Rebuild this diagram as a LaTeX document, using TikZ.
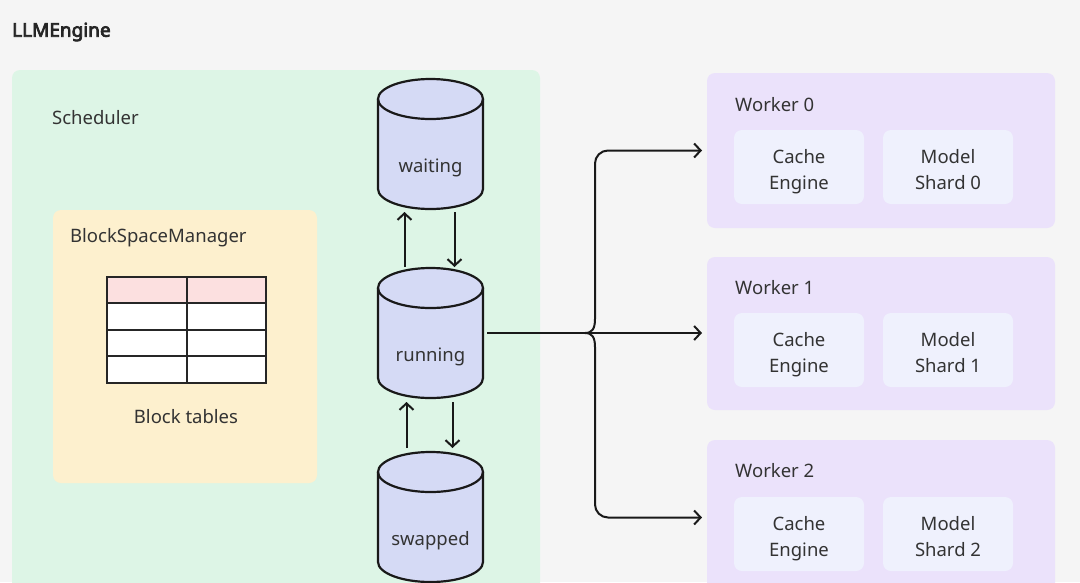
\documentclass[tikz,border=0pt]{standalone}
\usepackage{fontspec}
\setmainfont{Noto Sans}
\newfontfamily\titlefont{Noto Sans}[FakeBold=4]
\usetikzlibrary{arrows.meta}
\definecolor{bgc}{HTML}{F5F5F5}
\definecolor{greenc}{HTML}{DDF5E6}
\definecolor{yellowc}{HTML}{FDF0CE}
\definecolor{purplec}{HTML}{EBE2FB}
\definecolor{subc}{HTML}{EFF1FD}
\definecolor{cylc}{HTML}{D5DAF5}
\definecolor{pinkc}{HTML}{FCE0E0}
\definecolor{txtc}{HTML}{333333}
\newcommand\dbcyl[4]{%
  \fill[cylc] (#1-52.5,#2) -- (#1-52.5,#3) arc[start angle=180,end angle=360,x radius=52.5pt,y radius=20pt] -- (#1+52.5,#2) -- cycle;
  \fill[cylc] (#1,#2) ellipse[x radius=52.5pt,y radius=20pt];
  \draw[cylline] (#1-52.5,#2) -- (#1-52.5,#3) arc[start angle=180,end angle=360,x radius=52.5pt,y radius=20pt] -- (#1+52.5,#2);
  \draw[cylline] (#1,#2) ellipse[x radius=52.5pt,y radius=20pt];
  \node[cylbox] (#4) at (#1,{(#2+#3)/2}) {};
}
\newcommand\twolines[2]{\rule{0pt}{27pt}#1\\\strut #2}
\begin{document}
\begin{tikzpicture}[x=1pt,y=-1pt,
  lbl/.style={font=\fontsize{18.5pt}{27pt}\selectfont, text=txtc, inner sep=0pt},
  region/.style={rounded corners=8pt, inner sep=0pt, outer sep=0pt, anchor=north west},
  sub/.style={region, fill=subc, align=center, font=\fontsize{18.5pt}{26pt}\selectfont, text=txtc, minimum width=130pt, minimum height=74pt},
  cylline/.style={line width=2.2pt, black!90},
  cylbox/.style={inner sep=0pt, outer sep=0pt, minimum width=105pt, minimum height=130pt},
  link/.style={line width=2pt, black!90},
  arr/.style={link, -{Straight Barb[length=6.5pt,width=14pt]}},
  cell/.style={line width=1.6pt, black!85}
]
\useasboundingbox (0,0) rectangle (1080,582);
\clip (0,0) rectangle (1080,582);
\fill[bgc] (0,0) rectangle (1080,582);

\node[lbl, font=\titlefont\fontsize{19pt}{22pt}\selectfont, text=black!85, anchor=west] (title) at (12,32) {LLMEngine};

% scheduler region
\node[region, fill=greenc, minimum width=528pt, minimum height=540pt] (sched) at (12,70) {};
\node[lbl, anchor=west] (schedlbl) at (52,118) {Scheduler};

% block space manager
\node[region, fill=yellowc, minimum width=264pt, minimum height=273pt] (bsm) at (53,210) {};
\node[lbl, anchor=west] (bsmlbl) at (70,238) {BlockSpaceManager};
\fill[pinkc] (107,277) rectangle (266,303);
\fill[white] (107,303) rectangle (266,383);
\draw[cell] (107,277) rectangle (266,383);
\draw[cell] (187,277) -- (187,383);
\foreach \yy in {303,330,356} \draw[cell] (107,\yy) -- (266,\yy);
\node[inner sep=0pt, minimum width=159pt, minimum height=106pt] (table) at (186.5,330) {};
\node[lbl] (tablelbl) at (186,417) {Block tables};

% queues
\dbcyl{430.5}{99}{189}{waiting}
\dbcyl{430.5}{288}{378}{running}
\dbcyl{430.5}{472}{562}{swapped}
\node[lbl] (waitinglbl) at (430.5,168) {waiting};
\node[lbl] (runninglbl) at (430.5,357) {running};
\node[lbl] (swappedlbl) at (430.5,541) {swapped};

\draw[arr, shorten <=1pt, shorten >=3pt] ([xshift=-26pt]running.north) -- ([xshift=-26pt]waiting.south);
\draw[arr, shorten <=3pt, shorten >=1pt] ([xshift=24pt]waiting.south) -- ([xshift=24pt]running.north);
\draw[arr, shorten <=4pt, shorten >=4pt] ([xshift=-24pt]swapped.north) -- ([xshift=-24pt]running.south);
\draw[arr, shorten <=4pt, shorten >=4pt] ([xshift=22pt]running.south) -- ([xshift=22pt]swapped.north);

% workers
\node[region, fill=purplec, minimum width=348pt, minimum height=155pt] (w0) at (707,73) {};
\node[region, fill=purplec, minimum width=348pt, minimum height=153pt] (w1) at (707,257) {};
\node[region, fill=purplec, minimum width=348pt, minimum height=155pt] (w2) at (707,440) {};
\node[lbl, anchor=west] (w0lbl) at (735,105) {Worker 0};
\node[lbl, anchor=west] (w1lbl) at (735,288) {Worker 1};
\node[lbl, anchor=west] (w2lbl) at (735,471) {Worker 2};
\node[sub] (ce0) at (734,130) {\twolines{Cache}{Engine}};
\node[sub] (ms0) at (883,130) {\twolines{Model}{Shard 0}};
\node[sub] (ce1) at (734,313) {\twolines{Cache}{Engine}};
\node[sub] (ms1) at (883,313) {\twolines{Model}{Shard 1}};
\node[sub] (ce2) at (734,497) {\twolines{Cache}{Engine}};
\node[sub] (ms2) at (883,497) {\twolines{Model}{Shard 2}};

% dispatch brace
\coordinate (brace) at (585,333);
\draw[link, shorten <=4pt] (running.east) -- (brace);
\draw[arr, shorten >=5pt] (brace) -- (brace -| w1.west);
\draw[arr, shorten >=5pt] (brace) .. controls (592,333) and (595,329) .. (595,319) [rounded corners=13pt] |- (w0.west);
\draw[arr, shorten >=5pt] (brace) .. controls (592,333) and (595,337) .. (595,347) [rounded corners=13pt] |- (w2.west);
\end{tikzpicture}
\end{document}
